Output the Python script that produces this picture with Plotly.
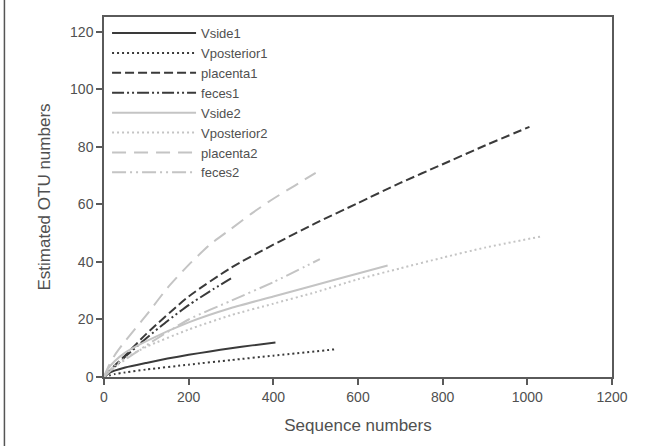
import plotly.graph_objects as go

# rarefaction curves
vside1_x = [0, 10, 25, 50, 100, 150, 200, 250, 300, 350, 405]
vside1_y = [0, 1.2, 2.2, 3.3, 4.9, 6.4, 7.7, 8.9, 10.0, 11.0, 12.0]

vposterior1_x = [0, 25, 50, 100, 200, 300, 400, 550]
vposterior1_y = [0, 1.0, 1.6, 2.6, 4.3, 5.9, 7.4, 9.7]

placenta1_x = [0, 25, 50, 100, 200, 300, 400, 500, 600, 700, 800, 900, 1005]
placenta1_y = [0, 4, 7.5, 15, 28, 38, 46, 53.5, 60.5, 67.5, 74, 80.5, 87]

feces1_x = [0, 25, 50, 100, 150, 200, 250, 300]
feces1_y = [0, 3.5, 7, 13.5, 19.5, 25, 29.8, 34.3]

vside2_x = [0, 10, 25, 50, 100, 200, 300, 400, 500, 600, 670]
vside2_y = [0, 3, 5.5, 8.5, 12.5, 19, 24, 28, 32, 36, 38.8]

vposterior2_x = [0, 25, 50, 100, 200, 300, 400, 500, 600, 700, 800, 900, 1030]
vposterior2_y = [0, 4, 6.5, 10.5, 16.5, 21.5, 25.5, 29.5, 34, 37.8, 41.5, 45, 48.8]

placenta2_x = [0, 10, 25, 50, 100, 150, 200, 250, 300, 350, 400, 450, 500]
placenta2_y = [0, 3.5, 7.5, 12.5, 21.5, 31, 39, 46, 51.5, 57, 62, 66.5, 71]

feces2_x = [0, 25, 50, 100, 200, 300, 400, 510]
feces2_y = [0, 3.5, 6, 11, 20, 26.5, 33, 41]

DARK = "#3a3a3a"
LIGHT = "#c4c4c4"
TEXT = "#505050"
FONT = "Arial, Liberation Sans, sans-serif"

series = [
    ("Vside1", vside1_x, vside1_y, DARK, "solid"),
    ("Vposterior1", vposterior1_x, vposterior1_y, DARK, "2px,3px"),
    ("placenta1", placenta1_x, placenta1_y, DARK, "9px,4px"),
    ("feces1", feces1_x, feces1_y, DARK, "12px,3px,2px,3px,2px,3px"),
    ("Vside2", vside2_x, vside2_y, LIGHT, "solid"),
    ("Vposterior2", vposterior2_x, vposterior2_y, LIGHT, "2px,3px"),
    ("placenta2", placenta2_x, placenta2_y, LIGHT, "14px,8px"),
    ("feces2", feces2_x, feces2_y, LIGHT, "14px,4px,2px,4px,2px,4px"),
]

fig = go.Figure()
for name, xs, ys, color, dash in series:
    fig.add_trace(go.Scatter(
        x=xs, y=ys, mode="lines", name=name,
        line=dict(color=color, width=2, dash=dash, shape="spline", smoothing=0.6),
    ))

axis_style = dict(
    showline=True, linecolor="#5a5a5a", linewidth=1.5, mirror=True,
    ticks="outside", ticklen=6, tickcolor="#5a5a5a", tickwidth=1.5,
    showgrid=False, zeroline=False, automargin=False,
    tickfont=dict(family=FONT, size=14, color=TEXT),
)

fig.update_layout(
    width=665, height=446,
    margin=dict(l=104, r=53, t=17, b=69),
    plot_bgcolor="white", paper_bgcolor="white",
    font=dict(family=FONT, color=TEXT),
    xaxis=dict(axis_style, range=[0, 1200], dtick=200,
               title=dict(text="Sequence numbers", font=dict(size=17, color=TEXT), standoff=16)),
    yaxis=dict(axis_style, range=[0, 125.2], tick0=0, dtick=20,
               title=dict(text="Estimated OTU numbers", font=dict(size=17, color=TEXT), standoff=15)),
    legend=dict(
        x=0.006, y=0.997, xanchor="left", yanchor="top",
        bgcolor="rgba(0,0,0,0)", font=dict(family=FONT, size=13, color=TEXT),
        tracegroupgap=0, itemwidth=84,
    ),
    showlegend=True,
)

# thin frame line on the left edge of the figure
fig.add_shape(type="line", xref="paper", yref="paper",
              x0=-0.196, x1=-0.196, y0=-0.2, y1=1.05,
              line=dict(color="#555555", width=1.5))

# drop the default page margin so the figure sits at the window's corner
fig.write_html("out.html", config={"displayModeBar": False},
               post_script="document.body.style.margin='0';")
